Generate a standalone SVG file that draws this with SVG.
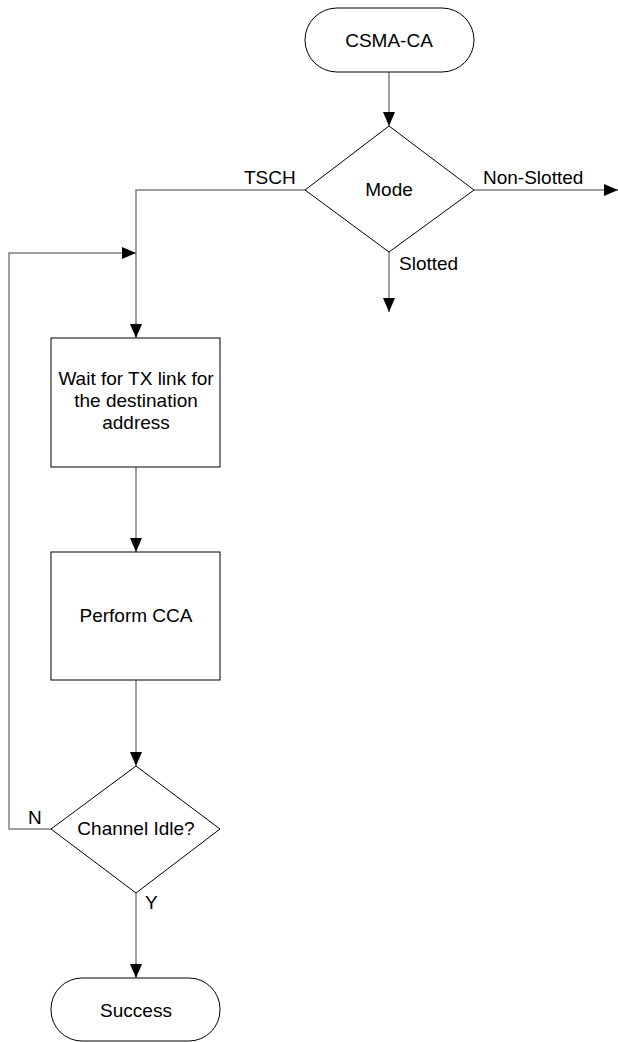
<svg xmlns="http://www.w3.org/2000/svg" width="618" height="1042" viewBox="0 0 618 1042">
<defs>
<marker id="ah" markerWidth="14" markerHeight="12" refX="14" refY="6" orient="auto" markerUnits="userSpaceOnUse" viewBox="0 0 14 12">
<path d="M0,0 L14,6 L0,12 Z" fill="#000"/>
</marker>
<style>
.n{fill:#fff;stroke:#000;stroke-width:1}
.c{fill:none;stroke:#808080;stroke-width:1.5}
.t{font-family:"Liberation Sans",Arial,sans-serif;font-size:19px;fill:#000}
.m{text-anchor:middle}
</style>
</defs>
<rect width="618" height="1042" fill="#fff"/>
<g id="connectors">
<line class="c" x1="389" y1="72" x2="389" y2="126" marker-end="url(#ah)"/>
<path class="c" d="M305,190 H136 V338" marker-end="url(#ah)"/>
<line class="c" x1="474" y1="190" x2="618" y2="190" marker-end="url(#ah)"/>
<line class="c" x1="389" y1="252" x2="389" y2="312" marker-end="url(#ah)"/>
<line class="c" x1="136" y1="467" x2="136" y2="552" marker-end="url(#ah)"/>
<line class="c" x1="136" y1="680" x2="136" y2="766" marker-end="url(#ah)"/>
<path class="c" d="M51,829 H9 V253 H136" marker-end="url(#ah)"/>
<line class="c" x1="136" y1="893" x2="136" y2="978" marker-end="url(#ah)"/>
<text class="t" x="244" y="184">TSCH</text>
<text class="t" x="483" y="184">Non-Slotted</text>
<text class="t" x="399" y="270">Slotted</text>
<text class="t" x="28" y="824">N</text>
<text class="t" x="145" y="909">Y</text>
</g>
<g id="start">
<rect class="n" x="305" y="8" width="169" height="64" rx="32" ry="32"/>
<text class="t m" x="389" y="47">CSMA-CA</text>
</g>
<g id="mode">
<polygon class="n" points="389,126 474,190 389,252 305,190"/>
<text class="t m" x="389" y="196">Mode</text>
</g>
<g id="wait">
<rect class="n" x="51" y="338" width="169" height="129"/>
<text class="t m" x="136" y="385">Wait for TX link for</text>
<text class="t m" x="136" y="407">the destination</text>
<text class="t m" x="136" y="429">address</text>
</g>
<g id="cca">
<rect class="n" x="51" y="552" width="169" height="128"/>
<text class="t m" x="136" y="622">Perform CCA</text>
</g>
<g id="idle">
<polygon class="n" points="136,766 220,829 136,893 51,829"/>
<text class="t m" x="136" y="835">Channel Idle?</text>
</g>
<g id="success">
<rect class="n" x="51" y="978" width="169" height="63" rx="31" ry="31"/>
<text class="t m" x="136" y="1017">Success</text>
</g>
</svg>
